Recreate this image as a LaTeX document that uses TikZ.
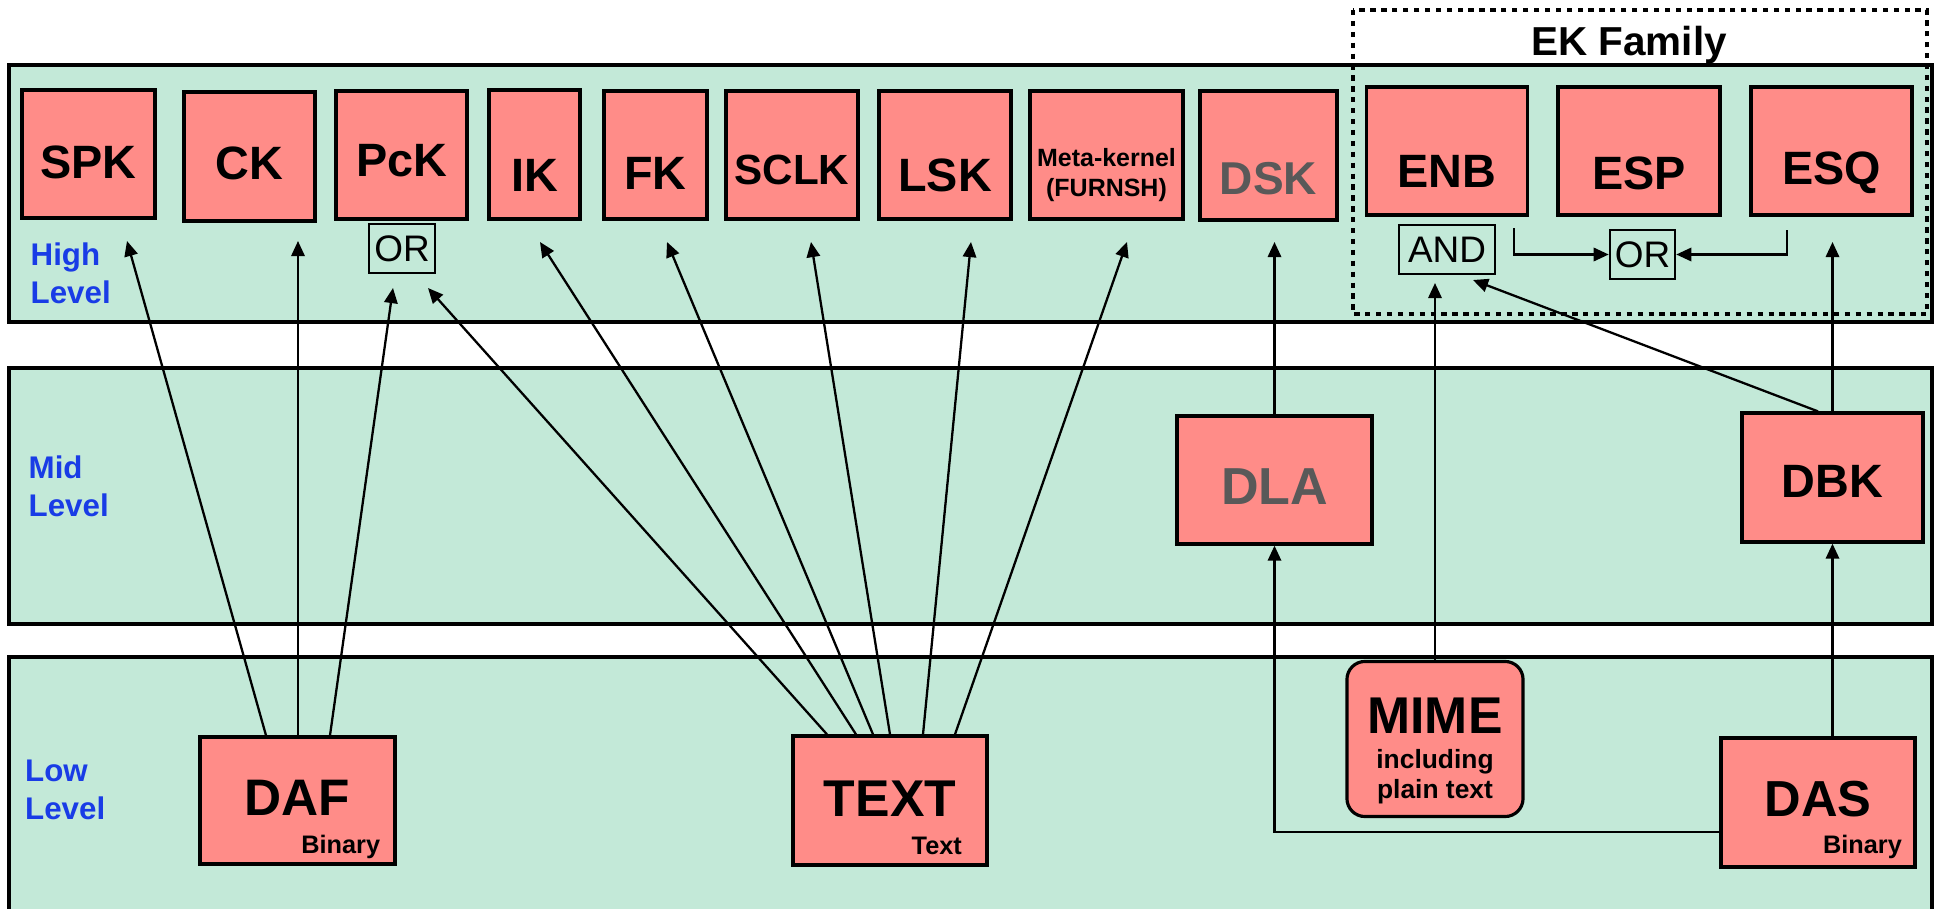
\documentclass[tikz,border=0pt]{standalone}
\usepackage{fontspec}
\setmainfont{Liberation Sans}
\usetikzlibrary{arrows.meta}

\definecolor{bandgreen}{RGB}{195,233,216}
\definecolor{boxred}{RGB}{255,140,136}
\definecolor{lvlblue}{RGB}{25,60,230}
\definecolor{txtgray}{RGB}{89,89,89}

\tikzset{
  band/.style={draw=black, line width=0.9pt, fill=bandgreen},
  kbox/.style={draw=black, line width=0.9pt, fill=boxred, inner sep=0pt, text depth=0pt,
    minimum height=1.28cm, font=\fontsize{13.3}{15}\selectfont\bfseries},
  gate/.style={draw=black, line width=0.7pt, inner sep=0pt, minimum height=0.49cm,
    font=\fontsize{10.5}{12}\selectfont},
  lvl/.style={text=lvlblue, font=\fontsize{8.9}{10.8}\selectfont\bfseries, align=left,
    anchor=west, inner sep=0pt},
  kind/.style={font=\fontsize{7.2}{8}\selectfont\bfseries, inner sep=0pt, anchor=base east},
  link/.style={line width=0.65pt, -{Triangle[length=4.3pt,width=3.8pt]}},
  wire/.style={line width=0.65pt}
}

\begin{document}
\begin{tikzpicture}[x=0.01cm,y=-0.01cm]
\useasboundingbox (0,0) rectangle (1941,909);

% levels
\draw[band] (9,65) rectangle (1932,322);
\draw[band] (9,368) rectangle (1932,624);
\draw[band] (9,657) rectangle (1932,940);

\node[lvl] (high) at (30,273.5) {High\\Level};
\node[lvl] (mid) at (28,486) {Mid\\Level};
\node[lvl] (low) at (24.5,790) {Low\\Level};

% EK family
\draw[line width=1.4pt, dash pattern=on 1.5pt off 1.6pt] (1353,10) rectangle (1927,314);
\node[font=\fontsize{11.5}{13}\selectfont\bfseries, inner sep=0pt, anchor=base] (ekfam) at (1629,55) {EK Family};

% high level kernels
\node[kbox, minimum width=1.33cm, text height=14.1pt] (spk) at (88.5,154) {SPK};
\node[kbox, minimum width=1.31cm, minimum height=1.29cm, text height=13.2pt] (ck) at (249.5,156.5) {CK};
\node[kbox, minimum width=1.31cm, text height=12.3pt] (pck) at (401.5,155) {PcK};
\node[kbox, minimum width=0.91cm, minimum height=1.29cm, text height=20.9pt] (ik) at (534.5,154.5) {IK};
\node[kbox, minimum width=1.03cm, text height=19.5pt] (fk) at (655.5,155) {FK};
\node[kbox, minimum width=1.32cm, text height=16.6pt, font=\fontsize{12}{14}\selectfont\bfseries] (sclk) at (792,155) {SCLK};
\node[kbox, minimum width=1.32cm, text height=20.5pt] (lsk) at (945,155) {LSK};
\node[kbox, minimum width=1.53cm,
  label={[font=\fontsize{7.1}{8.5}\selectfont\bfseries, align=center, yshift=-5.6pt]center:{Meta-kernel\\(FURNSH)}}] (meta) at (1106.5,155) {};
\node[kbox, minimum width=1.37cm, minimum height=1.29cm, text height=22pt, text=txtgray,
  font=\fontsize{13.1}{15}\selectfont\bfseries] (dsk) at (1268.5,155.5) {DSK};
\node[kbox, minimum width=1.61cm, text height=20.5pt] (enb) at (1447,151) {ENB};
\node[kbox, minimum width=1.62cm, text height=21.7pt] (esp) at (1639,151) {ESP};
\node[kbox, minimum width=1.61cm, text height=18.9pt] (esq) at (1831.5,151) {ESQ};

\node[gate, minimum width=0.66cm] (or-pck) at (402,248.5) {OR};
\node[gate, minimum width=0.96cm] (and-enb) at (1447,249.5) {AND};
\node[gate, minimum width=0.65cm] (or-esq) at (1642.5,254.5) {OR};

% mid level
\node[kbox, minimum width=1.95cm, text height=13.8pt, text=txtgray,
  font=\fontsize{14.8}{17}\selectfont\bfseries] (dla) at (1274.5,480) {DLA};
\node[kbox, minimum width=1.81cm, minimum height=1.29cm, text height=11.3pt] (dbk) at (1832.5,477.5) {DBK};

% low level
\node[kbox, minimum width=1.95cm, minimum height=1.27cm, text height=8.75pt,
  font=\fontsize{14.6}{17}\selectfont\bfseries] (daf) at (297.5,800.5) {DAF};
\node[kind] (daf-kind) at ([xshift=-4.5pt,yshift=3.4pt]daf.south east) {Binary};
\node[kbox, minimum width=1.94cm, minimum height=1.29cm, text height=9.3pt,
  font=\fontsize{14.7}{17}\selectfont\bfseries] (txt) at (890,800.5) {TEXT};
\node[kind] (txt-kind) at ([xshift=-7.4pt,yshift=3.4pt]txt.south east) {Text};
\node[kbox, rounded corners=0.18cm, minimum width=1.76cm, minimum height=1.55cm,
  label={[font=\fontsize{7.5}{8.5}\selectfont\bfseries, align=center, yshift=-3.4pt]center:{{\fontsize{14.7}{16}\selectfont MIME}\\[1.7pt]including\\plain text}}] (mime) at (1435,739) {};
\node[kbox, minimum width=1.94cm, minimum height=1.29cm, text height=8.1pt,
  font=\fontsize{14.4}{17}\selectfont\bfseries] (das) at (1818,802.5) {DAS};
\node[kind] (das-kind) at ([xshift=-4pt,yshift=4.3pt]das.south east) {Binary};

% arrow ends
\coordinate (spk-in) at (127,241);
\coordinate (ck-in) at (298,241);
\coordinate (ik-in) at (540,242);
\coordinate (fk-in) at (667,242);
\coordinate (sclk-in) at (811,242);
\coordinate (lsk-in) at (971,242);
\coordinate (meta-in) at (1127,242);
\coordinate (dsk-in) at (1276,242);
\coordinate (esq-in) at (1835,242);
\coordinate (or-in1) at (393,288);
\coordinate (or-in2) at (428,288);
\coordinate (and-in1) at (1435,283);
\coordinate (and-in2) at (1473,280);
\coordinate (enb-or) at (1514,228);
\coordinate (esq-or) at (1787,230);

% DAF
\draw[link] (266,0 |- daf.north) -- (spk-in);
\draw[link] (298,0 |- daf.north) -- (ck-in);
\draw[link] (330,0 |- daf.north) -- (or-in1);

% TEXT
\draw[link] (827,0 |- txt.north) -- (or-in2);
\draw[link] (856,0 |- txt.north) -- (ik-in);
\draw[link] (873,0 |- txt.north) -- (fk-in);
\draw[link] (890,0 |- txt.north) -- (sclk-in);
\draw[link] (923,0 |- txt.north) -- (lsk-in);
\draw[link] (955,0 |- txt.north) -- (meta-in);

% DSK, EK and the rest
\draw[link] (dla.north) -- (dla.north |- dsk-in);
\draw[link] (das.west |- 0,832) -| (dla.south);
\draw[link] (mime.north) -- (mime.north |- and-in1);
\draw[link] (das.north -| dbk.south) -- (dbk.south);
\draw[link] (dbk.north) -- (dbk.north |- esq-in);
\draw[link] (1818,0 |- dbk.north) -- (and-in2);
\draw[link] (enb-or) |- (or-esq.west);
\draw[link] (esq-or) |- (or-esq.east);
\end{tikzpicture}
\end{document}
